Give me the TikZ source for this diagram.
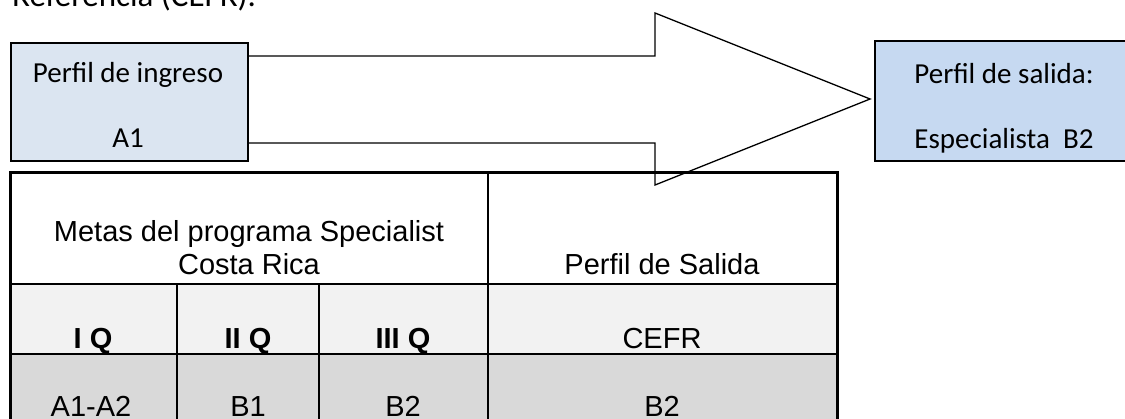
\documentclass[tikz,border=0pt]{standalone}
\usepackage{fontspec}
\setmainfont{Liberation Sans}
\newfontfamily\carlito{Carlito}
\usepackage{tikz}
\definecolor{azulclaro}{HTML}{DBE5F1}
\definecolor{azul}{HTML}{C6D9F1}
\definecolor{grisclaro}{HTML}{F2F2F2}
\definecolor{gris}{HTML}{D9D9D9}
\tikzstyle{perfil}=[draw=black, line width=1.5pt, inner sep=0pt, anchor=north west]
\tikzstyle{caja}=[font=\carlito\fontsize{29}{34}\selectfont, anchor=base, inner sep=0pt]
\tikzstyle{celda}=[font=\fontsize{29}{33}\selectfont, anchor=base, inner sep=0pt]
\tikzstyle{celdab}=[celda, font=\fontsize{29}{33}\selectfont\bfseries]

\begin{document}
\begin{tikzpicture}[x=1pt, y=-1pt]
      \useasboundingbox (0,0) rectangle (1125,418);
      % line of text above, cut by the page
      \node[anchor=base west, inner sep=0pt, font=\carlito\fontsize{33}{40}\selectfont]
          (titulo) at (12,6) {Referencia (CEFR).};

      \draw[fill=white, line width=1.3pt]
          (247,56) -- (655,56) -- (655,13) -- (870,99) -- (655,185) -- (655,143) -- (247,143);

      \node[perfil, fill=azulclaro, minimum width=237pt, minimum height=118pt] (ingreso) at (10,42) {};
      \node[perfil, fill=azul, minimum width=262pt, minimum height=120pt] (salida) at (874,40) {};
      \node[caja] (ingresoA) at (128,82) {Perfil de ingreso};
      \node[caja] (ingresoB) at (128,147) {A1};
      \node[caja] (salidaA) at (1004,83) {Perfil de salida:};
      \node[caja] (salidaB) at (1004,148) {Especialista\ \ B2};

      % tabla
      \fill[grisclaro] (10,284) rectangle (837,354);
      \fill[gris] (10,354) rectangle (837,430);
      \draw[line width=3pt] (10,430) -- (10,172) -- (837,172) -- (837,430);
      \draw[line width=2.7pt] (10,284) -- (837,284);
      \draw[line width=2.7pt] (488,172) -- (488,430);
      \draw[line width=2.2pt] (10,354) -- (837,354);
      \foreach \x in {177, 319}{
        \draw[line width=2pt] (\x,284) -- (\x,430);
      }

      \node[celda] (metasA) at (249,241) {Metas del programa Specialist};
      \node[celda] (metasB) at (249,274) {Costa Rica};
      \node[celda] (salidaT) at (662,274) {Perfil de Salida};
      \foreach \t/\x [count=\i] in {I Q/93, II Q/248, III Q/403}
        \node[celdab] (q\i) at (\x,348) {\t};
      \node[celda] (cefr) at (662,348) {CEFR};
      \foreach \t/\x [count=\i] in {A1-A2/91, B1/248, B2/403, B2/662}
        \node[celda] (nivel\i) at (\x,416) {\t};
\end{tikzpicture}
\end{document}
